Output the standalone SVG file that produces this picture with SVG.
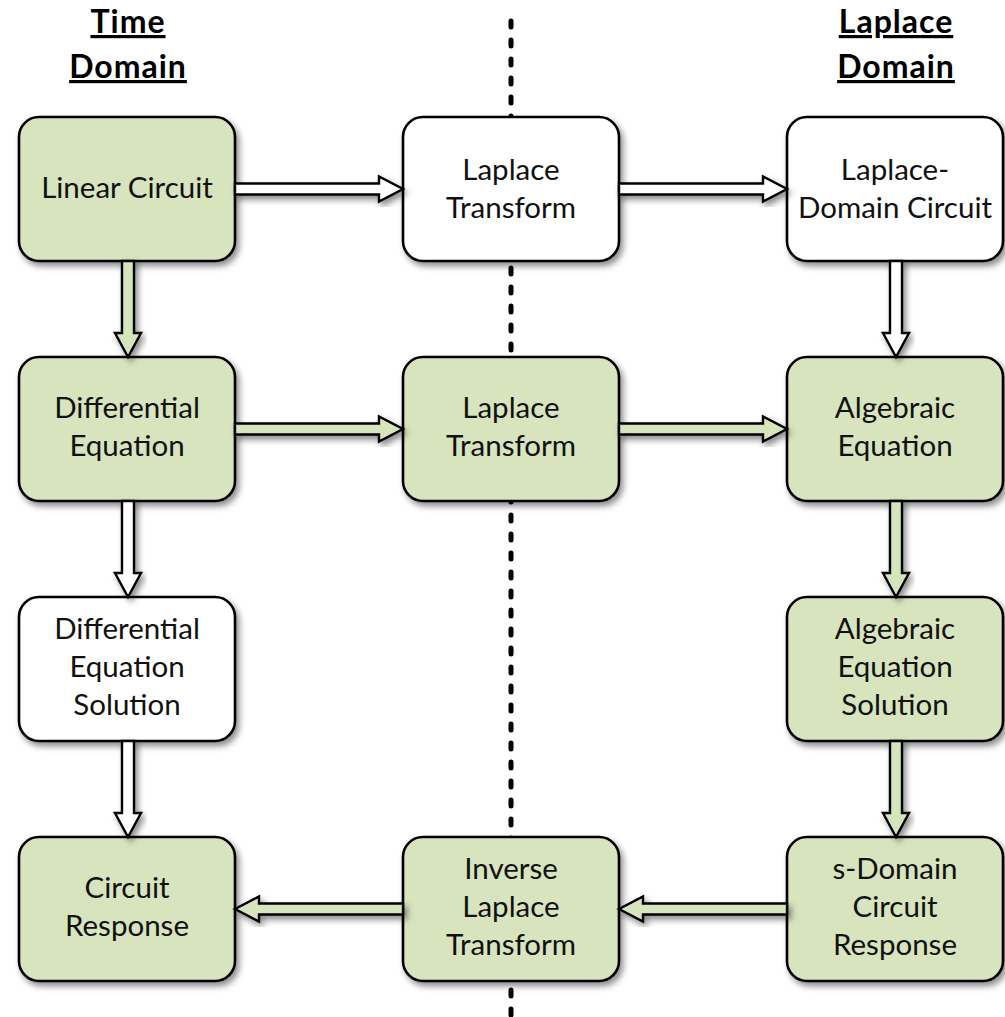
<svg xmlns="http://www.w3.org/2000/svg" width="1005" height="1017" viewBox="0 0 1005 1017">
  <defs>
    <filter id="shadow" x="-20%" y="-20%" width="140%" height="140%">
      <feDropShadow dx="3" dy="4" stdDeviation="3" flood-color="#000" flood-opacity="0.45"/>
    </filter>
    <style>
      .box { stroke: #000; stroke-width: 2.6; filter: url(#shadow); }
      .green { fill: #d7e4bd; }
      .white { fill: #ffffff; }
      .arrow { stroke: #000; stroke-width: 2.4; stroke-linejoin: miter; filter: url(#shadow); }
      .label { font-family: Lato, "Liberation Sans", sans-serif; font-size: 29.5px; fill: #111; text-anchor: middle; }
      .head { font-family: Lato, "Liberation Sans", sans-serif; font-size: 32px; letter-spacing: 1px; font-weight: bold; fill: #000; text-anchor: middle; text-decoration: underline; }
      .divider { stroke: #000; stroke-width: 5; stroke-linecap: round; stroke-dasharray: 6 13; fill: none; }
    </style>
  </defs>

  <rect width="1005" height="1017" fill="#ffffff"/>

  <!-- column headings -->
  <g id="heading-time">
    <text class="head" x="128" y="33">Time</text>
    <text class="head" x="128" y="78">Domain</text>
  </g>
  <g id="heading-laplace">
    <text class="head" x="896" y="33">Laplace</text>
    <text class="head" x="896" y="78">Domain</text>
  </g>

  <!-- dividing line between the two domains -->
  <line class="divider" x1="511" y1="21" x2="511" y2="1017"/>

  <!-- row 1 -->
  <g id="linear-circuit">
    <rect class="box green" x="19" y="117" width="216" height="144" rx="20"/>
    <text class="label" x="127" y="198">Linear Circuit</text>
  </g>
  <g id="laplace-transform-1">
    <rect class="box white" x="403" y="117" width="216" height="144" rx="20"/>
    <text class="label" x="511" y="180">Laplace</text>
    <text class="label" x="511" y="218">Transform</text>
  </g>
  <g id="laplace-domain-circuit">
    <rect class="box white" x="787" y="117" width="216" height="144" rx="20"/>
    <text class="label" x="895" y="180">Laplace-</text>
    <text class="label" x="895" y="218">Domain Circuit</text>
  </g>

  <!-- row 2 -->
  <g id="differential-equation">
    <rect class="box green" x="19" y="357" width="216" height="144" rx="20"/>
    <text class="label" x="127" y="418">Differential</text>
    <text class="label" x="127" y="456">Equation</text>
  </g>
  <g id="laplace-transform-2">
    <rect class="box green" x="403" y="357" width="216" height="144" rx="20"/>
    <text class="label" x="511" y="418">Laplace</text>
    <text class="label" x="511" y="456">Transform</text>
  </g>
  <g id="algebraic-equation">
    <rect class="box green" x="787" y="357" width="216" height="144" rx="20"/>
    <text class="label" x="895" y="418">Algebraic</text>
    <text class="label" x="895" y="456">Equation</text>
  </g>

  <!-- row 3 -->
  <g id="differential-equation-solution">
    <rect class="box white" x="19" y="597" width="216" height="144" rx="20"/>
    <text class="label" x="127" y="639">Differential</text>
    <text class="label" x="127" y="677">Equation</text>
    <text class="label" x="127" y="715">Solution</text>
  </g>
  <g id="algebraic-equation-solution">
    <rect class="box green" x="787" y="597" width="216" height="144" rx="20"/>
    <text class="label" x="895" y="639">Algebraic</text>
    <text class="label" x="895" y="677">Equation</text>
    <text class="label" x="895" y="715">Solution</text>
  </g>

  <!-- row 4 -->
  <g id="circuit-response">
    <rect class="box green" x="19" y="837" width="216" height="144" rx="20"/>
    <text class="label" x="127" y="898">Circuit</text>
    <text class="label" x="127" y="936">Response</text>
  </g>
  <g id="inverse-laplace-transform">
    <rect class="box green" x="403" y="837" width="216" height="144" rx="20"/>
    <text class="label" x="511" y="879">Inverse</text>
    <text class="label" x="511" y="917">Laplace</text>
    <text class="label" x="511" y="955">Transform</text>
  </g>
  <g id="s-domain-circuit-response">
    <rect class="box green" x="787" y="837" width="216" height="144" rx="20"/>
    <text class="label" x="895" y="879">s-Domain</text>
    <text class="label" x="895" y="917">Circuit</text>
    <text class="label" x="895" y="955">Response</text>
  </g>

  <!-- block arrows between the steps -->
  <g id="connectors">
    <!-- row 1, rightwards -->
    <polygon class="arrow white" points="235,183.5 379,183.5 379,176.5 403,189 379,201.5 379,194.5 235,194.5"/>
    <polygon class="arrow white" points="619,183.5 763,183.5 763,176.5 787,189 763,201.5 763,194.5 619,194.5"/>
    <!-- row 2, rightwards -->
    <polygon class="arrow green" points="235,423.5 379,423.5 379,416.5 403,429 379,441.5 379,434.5 235,434.5"/>
    <polygon class="arrow green" points="619,423.5 763,423.5 763,416.5 787,429 763,441.5 763,434.5 619,434.5"/>
    <!-- row 4, leftwards -->
    <polygon class="arrow green" points="787,903.5 643,903.5 643,896.5 619,909 643,921.5 643,914.5 787,914.5"/>
    <polygon class="arrow green" points="403,903.5 259,903.5 259,896.5 235,909 259,921.5 259,914.5 403,914.5"/>
    <!-- left column, downwards -->
    <polygon class="arrow green" points="122,261 122,333 115,333 128,357 141,333 134,333 134,261"/>
    <polygon class="arrow white" points="122,501 122,573 115,573 128,597 141,573 134,573 134,501"/>
    <polygon class="arrow white" points="122,741 122,813 115,813 128,837 141,813 134,813 134,741"/>
    <!-- right column, downwards -->
    <polygon class="arrow white" points="890,261 890,333 883,333 896,357 909,333 902,333 902,261"/>
    <polygon class="arrow green" points="890,501 890,573 883,573 896,597 909,573 902,573 902,501"/>
    <polygon class="arrow green" points="890,741 890,813 883,813 896,837 909,813 902,813 902,741"/>
  </g>
</svg>
